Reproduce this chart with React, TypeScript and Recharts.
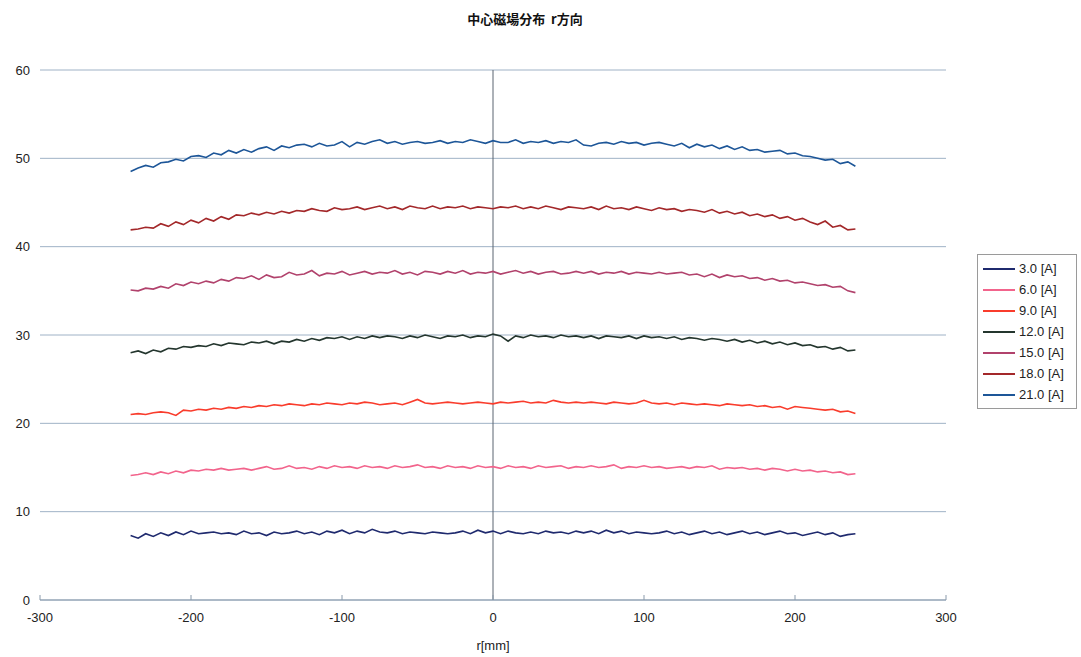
import React from 'react';
import {
  LineChart,
  Line,
  XAxis,
  YAxis,
  CartesianGrid,
  ReferenceLine,
} from 'recharts';

// r positions [mm]
const positions = [
  -240, -235, -230, -225, -220, -215, -210, -205, -200, -195,
  -190, -185, -180, -175, -170, -165, -160, -155, -150, -145,
  -140, -135, -130, -125, -120, -115, -110, -105, -100, -95,
  -90, -85, -80, -75, -70, -65, -60, -55, -50, -45,
  -40, -35, -30, -25, -20, -15, -10, -5, 0, 5,
  10, 15, 20, 25, 30, 35, 40, 45, 50, 55,
  60, 65, 70, 75, 80, 85, 90, 95, 100, 105,
  110, 115, 120, 125, 130, 135, 140, 145, 150, 155,
  160, 165, 170, 175, 180, 185, 190, 195, 200, 205,
  210, 215, 220, 225, 230, 235, 240,
];

const a3 = [
  7.3, 7.0, 7.5, 7.2, 7.6, 7.3, 7.7, 7.4, 7.8, 7.5,
  7.6, 7.7, 7.5, 7.6, 7.4, 7.8, 7.5, 7.6, 7.3, 7.7,
  7.5, 7.6, 7.8, 7.5, 7.7, 7.4, 7.8, 7.6, 7.9, 7.5,
  7.8, 7.6, 8.0, 7.7, 7.6, 7.8, 7.5, 7.7, 7.6, 7.5,
  7.7, 7.6, 7.5, 7.6, 7.8, 7.5, 7.9, 7.6, 7.8, 7.5,
  7.8, 7.6, 7.5, 7.7, 7.5, 7.8, 7.6, 7.7, 7.5, 7.8,
  7.6, 7.8, 7.5, 7.9, 7.6, 7.8, 7.5, 7.7, 7.6, 7.5,
  7.6, 7.8, 7.5, 7.7, 7.4, 7.6, 7.8, 7.5, 7.7, 7.4,
  7.6, 7.8, 7.5, 7.7, 7.4, 7.6, 7.8, 7.5, 7.6, 7.3,
  7.5, 7.7, 7.4, 7.6, 7.2, 7.4, 7.5,
];

const a6 = [
  14.1, 14.2, 14.4, 14.2, 14.5, 14.3, 14.6, 14.4, 14.7, 14.6,
  14.8, 14.7, 14.9, 14.7, 14.8, 14.9, 14.7, 14.9, 15.1, 14.8,
  14.9, 15.2, 14.9, 15.0, 14.8, 15.1, 14.9, 15.2, 15.0, 15.1,
  14.9, 15.2, 15.0, 15.1, 14.9, 15.2, 15.0, 15.1, 15.3, 15.0,
  15.1, 14.9, 15.2, 15.0, 15.1, 14.9, 15.2, 15.0, 15.1, 14.9,
  15.2, 15.0, 15.1, 14.9, 15.2, 15.0, 15.1, 15.2, 14.9, 15.1,
  15.0, 15.2, 15.0, 15.1, 15.3, 14.9, 15.1, 15.0, 15.2, 15.0,
  15.1, 14.9, 15.0, 15.1, 14.9, 15.1, 15.0, 15.2, 14.8, 15.0,
  14.9, 15.0, 14.8, 14.9, 14.7, 14.9, 14.8, 14.6, 14.8, 14.6,
  14.7, 14.5, 14.6, 14.4, 14.5, 14.2, 14.3,
];

const a9 = [
  21.0, 21.1, 21.0, 21.2, 21.3, 21.2, 20.9, 21.5, 21.4, 21.6,
  21.5, 21.7, 21.6, 21.8, 21.7, 21.9, 21.8, 22.0, 21.9, 22.1,
  22.0, 22.2, 22.1, 22.0, 22.2, 22.1, 22.3, 22.2, 22.1, 22.3,
  22.2, 22.4, 22.3, 22.1, 22.2, 22.3, 22.1, 22.4, 22.7, 22.3,
  22.2, 22.3, 22.4, 22.3, 22.2, 22.3, 22.4, 22.3, 22.2, 22.4,
  22.3, 22.4, 22.5, 22.3, 22.4, 22.3, 22.6, 22.4, 22.3, 22.4,
  22.3, 22.4, 22.3, 22.2, 22.4, 22.3, 22.2, 22.3, 22.6, 22.3,
  22.2, 22.3, 22.1, 22.3, 22.2, 22.1, 22.2, 22.1, 22.0, 22.2,
  22.1, 22.0, 22.1, 21.9, 22.0, 21.8, 21.9, 21.6, 21.9, 21.8,
  21.7, 21.6, 21.5, 21.6, 21.3, 21.4, 21.1,
];

const a12 = [
  28.0, 28.2, 27.9, 28.3, 28.1, 28.5, 28.4, 28.7, 28.6, 28.8,
  28.7, 29.0, 28.8, 29.1, 29.0, 28.9, 29.2, 29.1, 29.3, 29.0,
  29.3, 29.2, 29.5, 29.3, 29.6, 29.4, 29.7, 29.6, 29.8, 29.5,
  29.8, 29.6, 29.9, 29.7, 29.9, 29.8, 29.6, 29.9, 29.7, 30.0,
  29.8, 29.6, 29.9, 29.8, 30.0, 29.7, 29.9, 29.8, 30.1, 29.9,
  29.3, 29.9, 29.7, 30.0, 29.8, 29.9, 29.7, 30.0, 29.8, 29.9,
  29.7, 29.9, 29.6, 29.9, 29.8, 29.7, 29.9, 29.6, 29.9, 29.7,
  29.8, 29.6, 29.8, 29.5, 29.7, 29.6, 29.4, 29.6, 29.5, 29.3,
  29.5, 29.2, 29.4, 29.1, 29.3, 29.0, 29.2, 28.9, 29.1, 28.8,
  28.9, 28.6, 28.7, 28.4, 28.6, 28.2, 28.3,
];

const a15 = [
  35.1, 35.0, 35.3, 35.2, 35.5, 35.3, 35.8, 35.6, 36.0, 35.8,
  36.1, 35.9, 36.3, 36.1, 36.5, 36.4, 36.7, 36.3, 36.8, 36.5,
  36.6, 37.1, 36.8, 36.9, 37.3, 36.7, 37.0, 36.9, 37.2, 36.8,
  37.0, 37.2, 36.9, 37.1, 37.0, 37.3, 36.9, 37.1, 36.8, 37.2,
  37.1, 36.9, 37.2, 37.0, 37.3, 36.9, 37.1, 37.0, 37.2, 36.9,
  37.1, 37.3, 37.0, 37.2, 36.9, 37.1, 37.2, 36.9, 37.0, 37.2,
  37.0, 37.2, 36.9, 37.1, 37.0, 37.2, 36.9, 37.1, 37.0, 36.9,
  37.1, 36.9, 37.0, 37.1, 36.8, 36.9, 36.6, 36.9, 36.5, 36.8,
  36.6, 36.7, 36.4, 36.5, 36.2, 36.4, 36.1, 36.2, 35.9, 36.0,
  35.8, 35.6, 35.7, 35.4, 35.5, 35.0, 34.8,
];

const a18 = [
  41.9, 42.0, 42.2, 42.1, 42.6, 42.3, 42.8, 42.5, 43.0, 42.7,
  43.2, 42.9, 43.4, 43.1, 43.6, 43.5, 43.8, 43.6, 43.9, 43.7,
  44.0, 43.8, 44.1, 44.0, 44.3, 44.1, 44.0, 44.4, 44.2, 44.3,
  44.5, 44.2, 44.4, 44.6, 44.3, 44.5, 44.2, 44.6, 44.4, 44.3,
  44.6, 44.3, 44.5, 44.4, 44.6, 44.3, 44.5, 44.4, 44.3, 44.5,
  44.4, 44.6, 44.3, 44.5, 44.3, 44.6, 44.4, 44.2, 44.5, 44.4,
  44.3, 44.5, 44.2, 44.6, 44.3, 44.4, 44.2, 44.5, 44.3, 44.1,
  44.4, 44.2, 44.3, 44.0, 44.2, 44.1, 43.9, 44.2, 43.8, 44.0,
  43.7, 43.9, 43.5, 43.7, 43.4, 43.6, 43.2, 43.4, 43.0, 43.2,
  42.8, 42.5, 42.9, 42.2, 42.4, 41.9, 42.0,
];

const a21 = [
  48.5, 48.9, 49.2, 49.0, 49.5, 49.6, 49.9, 49.7, 50.2, 50.3,
  50.1, 50.6, 50.4, 50.9, 50.6, 51.0, 50.7, 51.1, 51.3, 50.9,
  51.4, 51.2, 51.5, 51.6, 51.3, 51.7, 51.4, 51.5, 51.9, 51.3,
  51.8, 51.6, 51.9, 52.1, 51.7, 51.9, 51.6, 51.8, 51.9, 51.7,
  51.8, 52.0, 51.7, 51.9, 51.8, 52.1, 51.9, 51.7, 52.0, 51.8,
  51.8, 52.1, 51.7, 51.9, 51.8, 52.0, 51.7, 51.9, 51.8, 52.1,
  51.5, 51.4, 51.7, 51.8, 51.6, 51.9, 51.7, 51.8, 51.5, 51.7,
  51.8, 51.6, 51.4, 51.7, 51.2, 51.6, 51.3, 51.5, 51.1, 51.4,
  51.0, 51.3, 50.9, 51.0, 50.7, 50.8, 50.9, 50.5, 50.6, 50.3,
  50.2, 50.0, 49.8, 49.9, 49.4, 49.6, 49.1,
];

const xTicks = [-300, -200, -100, 0, 100, 200, 300];
const yTicks = [0, 10, 20, 30, 40, 50, 60];

const series = [
  { key: 'a3', name: '3.0 [A]', color: '#1f2a6e', values: a3 },
  { key: 'a6', name: '6.0 [A]', color: '#f2648c', values: a6 },
  { key: 'a9', name: '9.0 [A]', color: '#f93c2c', values: a9 },
  { key: 'a12', name: '12.0 [A]', color: '#24362e', values: a12 },
  { key: 'a15', name: '15.0 [A]', color: '#b1426c', values: a15 },
  { key: 'a18', name: '18.0 [A]', color: '#a3282a', values: a18 },
  { key: 'a21', name: '21.0 [A]', color: '#1d5698', values: a21 },
];

const data = positions.map((r, i) => {
  const row: Record<string, number> = { r };
  series.forEach((s) => {
    row[s.key] = s.values[i];
  });
  return row;
});

const font = 'Arial, "Liberation Sans", "Noto Sans CJK JP", sans-serif';

// legend drawn outside the chart so it does not steal plot space
const LegendBox = () => (
  <div
    style={{
      position: 'absolute',
      left: 977,
      top: 254,
      width: 98,
      border: '1px solid #9a9a9a',
      background: '#fff',
      padding: '3px 0',
      fontFamily: font,
      fontSize: 13,
      color: '#222',
    }}
  >
    {series.map((s) => (
      <div key={s.key} style={{ display: 'flex', alignItems: 'center', height: 21 }}>
        <div style={{ width: 32, height: 2, background: s.color, marginLeft: 5, marginRight: 4 }} />
        <span>{s.name}</span>
      </div>
    ))}
  </div>
);

const App: React.FC = () => {
  return (
    <div style={{ position: 'relative', width: 1081, height: 657, background: '#fff', fontFamily: font }}>
      <style>{'body{margin:0;}'}</style>
      <div
        style={{
          position: 'absolute',
          top: 9,
          left: 0,
          width: 1050,
          textAlign: 'center',
          fontSize: 13,
          fontWeight: 'bold',
          color: '#111',
          fontFamily: '"Noto Sans CJK JP", sans-serif',
        }}
      >
        中心磁場分布&nbsp;&nbsp;r方向
      </div>
      <LineChart
        width={1081}
        height={657}
        data={data}
        margin={{ top: 70, right: 135, left: 10, bottom: 27 }}
      >
        <CartesianGrid vertical={false} stroke="#9fb2c6" strokeWidth={1} />
        <XAxis
          dataKey="r"
          type="number"
          domain={[-300, 300]}
          ticks={xTicks}
          height={30}
          stroke="#8a9aab"
          tickSize={-5}
          tickMargin={18}
          tick={{ fill: '#222', fontSize: 13 }}
          label={{ value: 'r[mm]', position: 'insideBottom', offset: -20, fill: '#222', fontSize: 13 }}
        />
        <YAxis
          domain={[0, 60]}
          ticks={yTicks}
          width={30}
          axisLine={false}
          tickLine={false}
          tickSize={0}
          tickMargin={10}
          tick={{ fill: '#222', fontSize: 13 }}
        />
        <ReferenceLine x={0} stroke="#5a6470" strokeWidth={1} />
        {series.map((s) => (
          <Line
            key={s.key}
            type="linear"
            dataKey={s.key}
            name={s.name}
            stroke={s.color}
            strokeWidth={1.6}
            dot={false}
            isAnimationActive={false}
          />
        ))}
      </LineChart>
      <LegendBox />
    </div>
  );
};

export default App;
